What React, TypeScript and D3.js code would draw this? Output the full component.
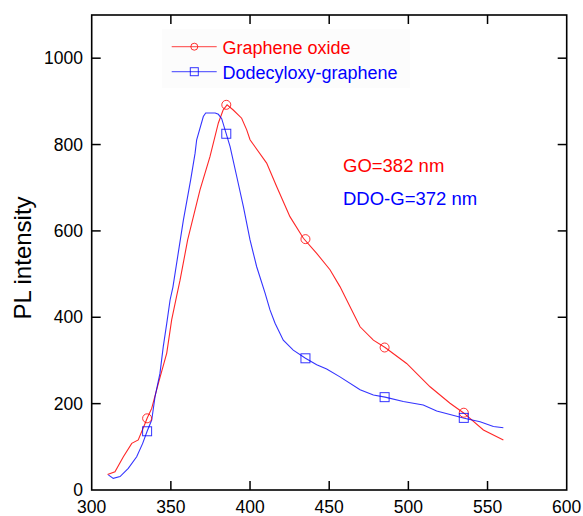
import * as d3 from "d3";
import { useEffect, useRef } from "react";

// Graphene oxide (GO)
const goX = [310, 314.7, 320, 325.3, 329.4, 333.7, 335, 337.9, 342.1, 347.4, 350.5, 353.7, 355.8, 360.6, 368.4, 374.7, 380, 383, 385.5, 389.4, 394.7, 397.9, 400, 410.5, 416.8, 425.2, 433.7, 442.1, 450.5, 456.8, 464.2, 469.5, 477.9, 485.3, 498.9, 513.7, 526.3, 534.7, 547.4, 560];
const goY = [36, 42, 77, 108, 116, 154, 166, 189, 247, 317, 394, 450, 486, 579, 695, 772, 850, 880, 892, 880, 861, 834, 811, 757, 703, 633, 583, 548, 510, 471, 417, 378, 347, 330, 293, 239, 201, 179, 139, 116];

// Dodecyloxy-graphene (DDO-G)
const ddoX = [310.5, 313.6, 317.9, 323.1, 328.4, 332.2, 335, 337.9, 340, 343.1, 345.2, 347.4, 349.5, 351.3, 357.9, 362.5, 365.3, 366.3, 370.5, 372, 378, 380, 382.1, 387.4, 391.6, 395.8, 400, 404.2, 409.5, 412.6, 415.8, 421, 427.3, 435, 442.1, 448.4, 456.8, 469.5, 477.9, 485.3, 496.8, 509.4, 517.9, 526.3, 535.3, 545.3, 553.7, 560];
const ddoY = [35, 27, 31, 50, 77, 108, 136, 162, 216, 270, 332, 386, 440, 470, 625, 718, 780, 811, 865, 873, 873, 870, 860, 795, 726, 656, 579, 517, 456, 417, 386, 347, 324, 305, 290, 280, 262, 232, 220, 215, 205, 197, 183, 175, 166, 158, 147, 144];

// symbol positions
const markerX = [335, 385, 435, 485, 535];
const goMarkY = [166, 892, 581, 330, 179];
const ddoMarkY = [136, 825, 305, 215, 167];

const xTicks = [300, 350, 400, 450, 500, 550, 600];
const yTicks = [0, 200, 400, 600, 800, 1000];

const legendLabels = ["Graphene oxide", "Dodecyloxy-graphene"];
const notes = ["GO=382 nm", "DDO-G=372 nm"];

const RED = "#ff0000";
const BLUE = "#0000ff";
const FONT = "Liberation Sans, Arial, sans-serif";

const App = () => {
  const svgRef = useRef<SVGSVGElement>(null);

  const renderSVG = () => {
    const dims = { width: 583, height: 516, left: 91.7, right: 566.7, top: 15, bottom: 490 };

    const xScale = d3.scaleLinear([300, 600], [dims.left, dims.right]);
    const yScale = d3.scaleLinear([0, 1100], [dims.bottom, dims.top]);

    svgRef.current!.innerHTML = "";
    const svg = d3
      .select(svgRef.current)
      .attr("width", dims.width)
      .attr("height", dims.height)
      .attr("viewBox", [0, 0, dims.width, dims.height].join(" "));

    svg.append("rect").attr("width", dims.width).attr("height", dims.height).attr("fill", "white");

    // legend background (very faint)
    svg.append("rect")
      .attr("x", 162).attr("y", 29).attr("width", 248).attr("height", 59)
      .attr("fill", "#fcfcfc");

    // frame + inward ticks
    svg.append("rect")
      .attr("x", dims.left).attr("y", dims.top)
      .attr("width", dims.right - dims.left).attr("height", dims.bottom - dims.top)
      .attr("fill", "none").attr("stroke", "black").attr("stroke-width", 1.6);

    const tickLen = 9;
    xTicks.slice(1, -1).forEach((t) => {
      svg.append("line").attr("x1", xScale(t)).attr("x2", xScale(t))
        .attr("y1", dims.bottom).attr("y2", dims.bottom - tickLen)
        .attr("stroke", "black").attr("stroke-width", 1.5);
      svg.append("line").attr("x1", xScale(t)).attr("x2", xScale(t))
        .attr("y1", dims.top).attr("y2", dims.top + tickLen)
        .attr("stroke", "black").attr("stroke-width", 1.5);
    });
    yTicks.slice(1).forEach((t) => {
      svg.append("line").attr("x1", dims.left).attr("x2", dims.left + tickLen)
        .attr("y1", yScale(t)).attr("y2", yScale(t))
        .attr("stroke", "black").attr("stroke-width", 1.5);
      svg.append("line").attr("x1", dims.right).attr("x2", dims.right - tickLen)
        .attr("y1", yScale(t)).attr("y2", yScale(t))
        .attr("stroke", "black").attr("stroke-width", 1.5);
    });

    // tick labels
    svg.append("g").selectAll("text").data(xTicks).enter().append("text")
      .attr("x", (d) => xScale(d)).attr("y", 513)
      .attr("text-anchor", "middle")
      .attr("font-size", 17.5).attr("font-family", FONT)
      .text((d) => d);

    svg.append("g").selectAll("text").data(yTicks).enter().append("text")
      .attr("x", 83).attr("y", (d) => yScale(d))
      .attr("text-anchor", "end").attr("dominant-baseline", "central")
      .attr("font-size", 17.5).attr("font-family", FONT)
      .text((d) => d);

    svg.append("text")
      .attr("transform", "translate(31,258) rotate(-90)")
      .attr("text-anchor", "middle")
      .attr("font-size", 24).attr("font-family", FONT)
      .text("PL intensity");

    // curves
    const line = d3.line<number[]>()
      .x((d) => xScale(d[0]))
      .y((d) => yScale(d[1]));

    const goPts = goX.map((x, i) => [x, goY[i]]);
    const ddoPts = ddoX.map((x, i) => [x, ddoY[i]]);

    svg.append("path").attr("d", line(goPts)).attr("fill", "none")
      .attr("stroke", RED).attr("stroke-width", 1.1).attr("stroke-opacity", 0.85);
    svg.append("path").attr("d", line(ddoPts)).attr("fill", "none")
      .attr("stroke", BLUE).attr("stroke-width", 1.1).attr("stroke-opacity", 0.8);

    // markers
    svg.append("g").selectAll("circle").data(markerX).enter().append("circle")
      .attr("cx", (d) => xScale(d)).attr("cy", (d, i) => yScale(goMarkY[i]))
      .attr("r", 4.5).attr("fill", "none").attr("stroke", RED).attr("stroke-opacity", 0.8);
    svg.append("g").selectAll("rect").data(markerX).enter().append("rect")
      .attr("x", (d) => xScale(d) - 4.5).attr("y", (d, i) => yScale(ddoMarkY[i]) - 4.5)
      .attr("width", 9).attr("height", 9)
      .attr("fill", "none").attr("stroke", BLUE).attr("stroke-opacity", 0.8);

    // legend
    const legendColors = [RED, BLUE];
    legendLabels.forEach((label, i) => {
      const y = 46.7 + i * 25;
      const g = svg.append("g");
      g.append("line").attr("x1", 171.7).attr("x2", 216.7).attr("y1", y).attr("y2", y)
        .attr("stroke", legendColors[i]).attr("stroke-opacity", 0.6).attr("stroke-width", 1.2);
      if (i === 0) {
        g.append("circle").attr("cx", 194.3).attr("cy", y).attr("r", 3.5)
          .attr("fill", "none").attr("stroke", RED).attr("stroke-opacity", 0.8);
      } else {
        g.append("rect").attr("x", 190.3).attr("y", y - 4).attr("width", 8).attr("height", 8)
          .attr("fill", "none").attr("stroke", BLUE).attr("stroke-opacity", 0.8);
      }
      g.append("text").attr("x", 222.5).attr("y", y + 7.5)
        .attr("font-size", 18).attr("font-family", FONT)
        .attr("fill", legendColors[i])
        .text(label);
    });

    // peak annotations
    notes.forEach((n, i) => {
      svg.append("text").attr("x", 343).attr("y", 172 + i * 32.5)
        .attr("font-size", 18.5).attr("font-family", FONT)
        .attr("fill", legendColors[i])
        .text(n);
    });
  };

  useEffect(() => {
    renderSVG();
  });

  return <svg ref={svgRef} style={{ position: "absolute", left: 0, top: 0 }} />;
};

export default App;
